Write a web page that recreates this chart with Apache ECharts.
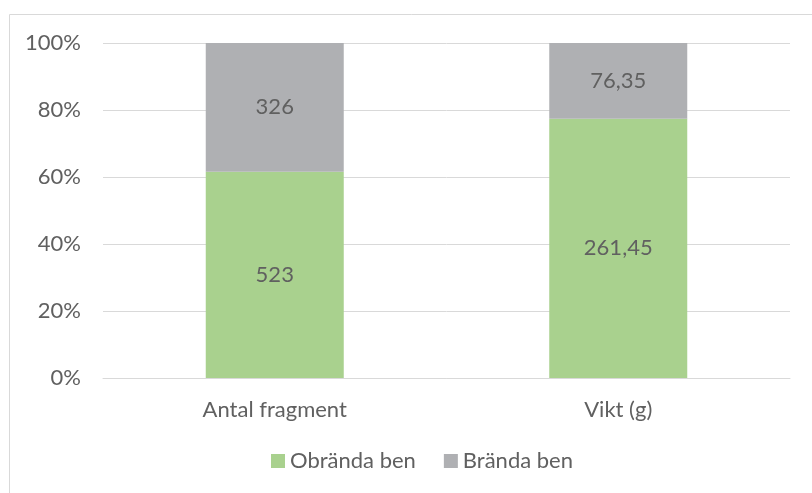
<!DOCTYPE html>
<html>
<head>
<meta charset="utf-8">
<script src="https://cdn.jsdelivr.net/npm/echarts@6/dist/echarts.min.js"></script>
<style>
  html, body { margin: 0; padding: 0; background: #fff; }
  #main { width: 812px; height: 493px; }
</style>
</head>
<body>
<div id="main"></div>
<script>
// data
const categories = ['Antal fragment', 'Vikt (g)']
const obrandaBen = [523, 261.45]
const brandaBen = [326, 76.35]
const yTicks = ['0%', '20%', '40%', '60%', '80%', '100%']

const totals = categories.map((c, i) => obrandaBen[i] + brandaBen[i])
const pct = arr => arr.map((v, i) => v / totals[i] * 100)

const fmt = v => String(v).replace('.', ',')
const font = 'Lato, "Open Sans", sans-serif'
const fs = 22
const txt = '#606060'

let myChart = echarts.init(document.getElementById('main'))

myChart.setOption({
    animation: false,
    textStyle: { fontFamily: font },
    graphic: [{
        type: 'rect',
        shape: { x: 9.5, y: 14.5, width: 900, height: 600 },
        style: { fill: 'none', stroke: '#d9d9d9', lineWidth: 1 }
    }],
    legend: {
        bottom: 16,
        left: 266,
        itemWidth: 14,
        itemHeight: 14,
        itemGap: 28,
        icon: 'rect',
        textStyle: { color: txt, fontSize: fs, fontFamily: font },
        data: ['Obrända ben', 'Brända ben']
    },
    grid: {
        left: 103,
        right: 22,
        top: 43,
        bottom: 115,
        containLabel: false
    },
    xAxis: {
        type: 'category',
        data: categories,
        axisTick: { show: false },
        axisLine: { lineStyle: { color: '#d9d9d9', width: 1 } },
        axisLabel: { color: txt, fontSize: fs, margin: 21, fontFamily: font }
    },
    yAxis: {
        type: 'value',
        min: 0,
        max: 100,
        interval: 20,
        axisLine: { show: false },
        axisTick: { show: false },
        splitLine: { lineStyle: { color: '#d9d9d9', width: 1 } },
        axisLabel: {
            color: txt,
            fontSize: fs,
            margin: 22,
            fontFamily: font,
            formatter: v => yTicks[Math.round(v / 20)]
        }
    },
    series: [
        {
            name: 'Obrända ben',
            type: 'bar',
            stack: 'total',
            barWidth: 138,
            itemStyle: { color: '#a9d18e' },
            label: {
                show: true,
                position: 'inside',
                color: txt,
                fontSize: fs,
                fontFamily: font,
                formatter: p => fmt(obrandaBen[p.dataIndex])
            },
            data: pct(obrandaBen)
        },
        {
            name: 'Brända ben',
            type: 'bar',
            stack: 'total',
            barWidth: 138,
            itemStyle: { color: '#afb0b3' },
            label: {
                show: true,
                position: 'inside',
                color: txt,
                fontSize: fs,
                fontFamily: font,
                formatter: p => fmt(brandaBen[p.dataIndex])
            },
            data: pct(brandaBen)
        }
    ]
})
</script>
</body>
</html>
